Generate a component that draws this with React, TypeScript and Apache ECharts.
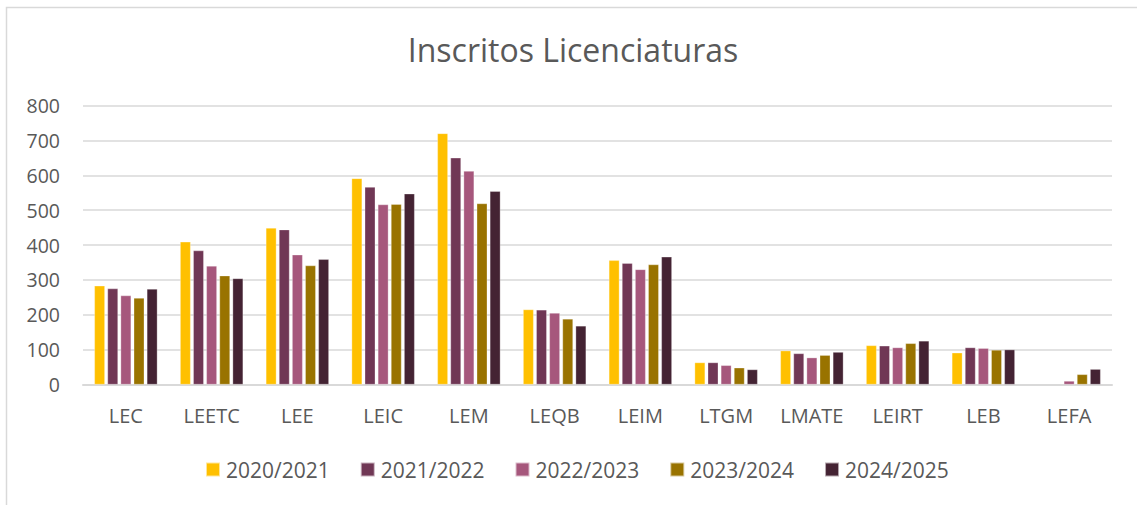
import React, { useEffect, useRef } from "react";
import * as echarts from "echarts";

const categories = ["LEC", "LEETC", "LEE", "LEIC", "LEM", "LEQB", "LEIM", "LTGM", "LMATE", "LEIRT", "LEB", "LEFA"];
const seriesNames = ["2020/2021", "2021/2022", "2022/2023", "2023/2024", "2024/2025"];
const y2020 = [283, 409, 449, 591, 720, 215, 356, 63, 97, 112, 91, null];
const y2021 = [275, 384, 444, 566, 650, 214, 348, 63, 89, 111, 106, null];
const y2022 = [255, 340, 372, 516, 612, 205, 330, 55, 77, 106, 104, 10];
const y2023 = [248, 312, 341, 517, 519, 188, 344, 48, 84, 118, 99, 29];
const y2024 = [274, 304, 359, 547, 554, 168, 366, 43, 93, 125, 100, 44];
const colors = ["#FFC000", "#703755", "#A6577C", "#997300", "#442333"];

const FONT = "'Open Sans', 'Noto Sans', sans-serif";
const TXT = "#595959";

export default function App() {
  const ref = useRef<HTMLDivElement>(null);
  useEffect(() => {
    if (!ref.current) return;
    const chart = echarts.init(ref.current, undefined, { renderer: "svg" });
    const data = [y2020, y2021, y2022, y2023, y2024];
    chart.setOption({
      animation: false,
      backgroundColor: "#ffffff",
      textStyle: { fontFamily: FONT },
      title: {
        text: "Inscritos Licenciaturas",
        left: 568,
        textAlign: "center",
        top: 28,
        textStyle: { fontFamily: FONT, fontSize: 32, fontWeight: "normal", color: TXT },
      },
      graphic: [
        {
          type: "rect",
          shape: { x: 6.5, y: 7.5, width: 1200, height: 600 },
          style: { fill: "none", stroke: "#d9d9d9", lineWidth: 1.5 },
          silent: true,
          z: -1,
        },
      ],
      legend: {
        left: 200,
        top: 454,
        itemWidth: 14,
        itemHeight: 14,
        itemGap: 30,
        icon: "rect",
        textStyle: { fontFamily: FONT, fontSize: 21, color: TXT, padding: [0, 0, 0, 1] },
        data: seriesNames,
      },
      grid: { left: 83, right: 25, top: 105.5, bottom: 120.5, containLabel: false },
      xAxis: {
        type: "category",
        data: categories,
        axisLine: { lineStyle: { color: "#d9d9d9", width: 2 } },
        axisTick: { show: false },
        axisLabel: { fontFamily: FONT, fontSize: 20, color: TXT, margin: 21 },
      },
      yAxis: {
        type: "value",
        min: 0,
        max: 800,
        interval: 100,
        axisLine: { show: false },
        axisTick: { show: false },
        splitLine: { lineStyle: { color: "#d9d9d9", width: 1.5 } },
        axisLabel: { fontFamily: FONT, fontSize: 19.5, color: TXT, margin: 23 },
      },
      series: seriesNames.map((name, i) => ({
        name,
        type: "bar",
        data: data[i],
        barWidth: 10.5,
        barGap: "25%",
        itemStyle: { color: colors[i], borderColor: "rgba(255,255,255,0.6)", borderWidth: 0.5 },
      })),
    });
    return () => chart.dispose();
  }, []);
  return <div ref={ref} style={{ position: "fixed", left: 0, top: 0, width: 1137, height: 505 }} />;
}
